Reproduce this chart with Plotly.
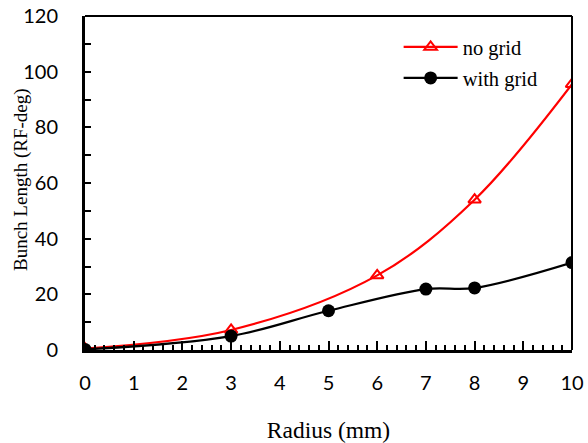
import plotly.graph_objects as go

radius_no_grid = [0, 3, 6, 8, 10]
length_no_grid = [0.5, 7.2, 26.8, 54.0, 95.5]
radius_with_grid = [0, 3, 5, 7, 8, 10]
length_with_grid = [0.2, 5.0, 14.1, 21.9, 22.3, 31.4]

fig = go.Figure()
fig.add_trace(go.Scatter(
    x=radius_no_grid, y=length_no_grid, name="no grid", legend="legend",
    mode="lines+markers", line=dict(color="#ff0000", width=2.2, shape="spline", smoothing=1),
    marker=dict(symbol="triangle-up-open", size=11, color="#ff0000", line=dict(width=2, color="#ff0000")),
))
fig.add_trace(go.Scatter(
    x=radius_with_grid, y=length_with_grid, name="with grid", legend="legend2",
    mode="lines+markers", line=dict(color="#000000", width=2.2, shape="spline", smoothing=1),
    marker=dict(symbol="circle", size=13, color="#000000"),
))

legend_font = dict(family="Liberation Serif", size=20.5, color="black")
fig.update_layout(
    width=588, height=443,
    margin=dict(l=85, r=16, t=16, b=93),
    paper_bgcolor="white", plot_bgcolor="white",
    showlegend=True,
    legend=dict(x=0.644, y=0.907, xanchor="left", yanchor="middle", font=legend_font,
                bgcolor="rgba(0,0,0,0)", itemwidth=54, borderwidth=0),
    legend2=dict(x=0.644, y=0.814, xanchor="left", yanchor="middle", font=legend_font,
                 bgcolor="rgba(0,0,0,0)", itemwidth=54, borderwidth=0),
    xaxis=dict(
        range=[0, 10], dtick=1, showgrid=False, zeroline=False, automargin=False,
        showline=True, linewidth=3, linecolor="black",
        ticks="inside", ticklen=9, tickwidth=2, tickcolor="black",
        minor=dict(dtick=0.2, ticks="inside", ticklen=5, tickwidth=1.5, tickcolor="black", showgrid=False),
        tickfont=dict(family="Lato", size=20, color="black"),
        ticklabelstandoff=13,
        title=dict(text="Radius (mm)", font=dict(family="Liberation Serif", size=23.5, color="black"), standoff=30),
    ),
    yaxis=dict(
        range=[0, 120], dtick=20, showgrid=False, zeroline=False, automargin=False,
        showline=True, linewidth=3, linecolor="black",
        ticks="inside", ticklen=6, tickwidth=2, tickcolor="black",
        minor=dict(dtick=10, ticks="inside", ticklen=6, tickwidth=2, tickcolor="black", showgrid=False),
        tickfont=dict(family="Lato", size=20, color="black"),
        ticklabelstandoff=20,
    ),
    annotations=[
        dict(text="Bunch Length (RF-deg)", textangle=-90, xref="paper", yref="paper",
             x=0, y=0.509, xshift=-64, xanchor="center", yanchor="middle", showarrow=False,
             font=dict(family="Liberation Serif", size=19, color="black")),
    ],
    shapes=[
        dict(type="line", xref="paper", yref="paper", x0=0, x1=1, y0=1, y1=1, line=dict(color="black", width=2)),
        dict(type="line", xref="paper", yref="paper", x0=1, x1=1, y0=0, y1=1, line=dict(color="black", width=2)),
    ],
)

fig.write_html("out.html", config={"displayModeBar": False},
               post_script="document.body.style.margin='0';document.body.style.overflow='hidden';")
